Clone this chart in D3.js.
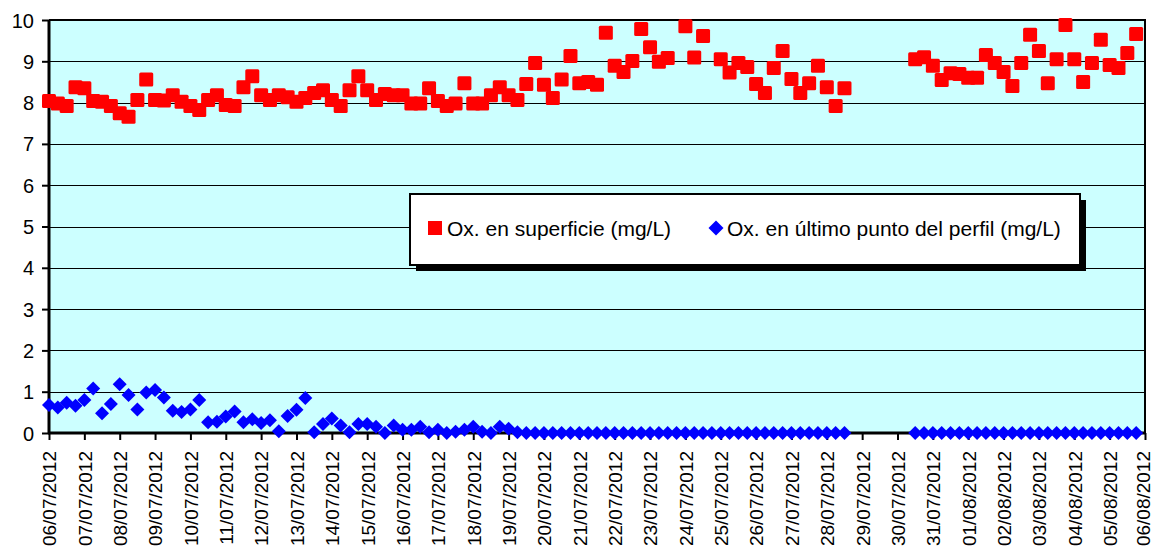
<!DOCTYPE html>
<html><head><meta charset="utf-8">
<script src="https://cdn.jsdelivr.net/npm/d3@7"></script>
<style>
body{margin:0;background:#fff}
text{font-family:Arial,"Liberation Sans",sans-serif;fill:#000}
</style>
</head><body>
<svg id="chart" width="1153" height="555"></svg>
<script>
const tickLabels = ["06/07/2012","07/07/2012","08/07/2012","09/07/2012","10/07/2012","11/07/2012","12/07/2012","13/07/2012","14/07/2012","15/07/2012","16/07/2012","17/07/2012","18/07/2012","19/07/2012","20/07/2012","21/07/2012","22/07/2012","23/07/2012","24/07/2012","25/07/2012","26/07/2012","27/07/2012","28/07/2012","29/07/2012","30/07/2012","31/07/2012","01/08/2012","02/08/2012","03/08/2012","04/08/2012","05/08/2012","06/08/2012"];
const yTicks = [0,1,2,3,4,5,6,7,8,9,10];
const firstSample = "06/07/2012 00:00";
const sampleStepHours = 6;
const seriesNames = ["Ox. en superficie (mg/L)", "Ox. en último punto del perfil (mg/L)"];
const surface = [
8.04,7.98,7.92,8.37,8.35,8.04,8.02,7.92,7.74,7.66,
8.06,8.56,8.06,8.05,8.18,8.02,7.92,7.82,8.06,8.18,
7.94,7.92,8.37,8.64,8.18,8.06,8.18,8.13,8.02,8.11,
8.23,8.30,8.06,7.92,8.30,8.64,8.30,8.06,8.21,8.18,
8.18,7.98,7.98,8.35,8.04,7.92,7.98,8.47,7.98,7.98,
8.18,8.37,8.18,8.06,8.45,8.96,8.43,8.11,8.56,9.13,
8.47,8.50,8.43,9.69,8.89,8.74,9.01,9.78,9.34,8.99,
9.08,null,9.85,9.09,9.61,null,9.05,8.73,8.96,8.86,
8.45,8.23,8.84,9.25,8.57,8.23,8.47,8.89,8.37,7.92,
8.35,null,null,null,null,null,null,null,9.05,9.10,
8.89,8.55,8.71,8.69,8.60,8.60,9.15,8.96,8.74,8.40,
8.96,9.64,9.25,8.47,9.05,9.88,9.05,8.50,8.96,9.52,
8.91,8.84,9.20,9.66];
const bottom = [
0.68,0.62,0.73,0.66,0.80,1.08,0.48,0.70,1.18,0.92,
0.57,0.98,1.04,0.86,0.54,0.51,0.57,0.80,0.26,0.27,
0.40,0.52,0.26,0.33,0.24,0.31,0.04,0.41,0.56,0.85,
0.02,0.22,0.35,0.18,0.02,0.22,0.22,0.15,0.00,0.18,
0.08,0.08,0.15,0.02,0.08,0.00,0.03,0.08,0.15,0.03,
0.00,0.15,0.10,0.02,0,0,0,0,0,0,
0,0,0,0,0,0,0,0,0,0,
0,0,0,0,0,0,0,0,0,0,
0,0,0,0,0,0,0,0,0,0,
0,null,null,null,null,null,null,null,0,0,
0,0,0,0,0,0,0,0,0,0,
0,0,0,0,0,0,0,0,0,0,
0,0,0,0];

const parseDay = d3.timeParse("%d/%m/%Y");
const parseStamp = d3.timeParse("%d/%m/%Y %H:%M");
const tickDates = tickLabels.map(parseDay);
const t0 = parseStamp(firstSample);
const timeOf = i => d3.timeHour.offset(t0, i * sampleStepHours);

const L = 49, R = 1145, T = 20, B = 433;
const svg = d3.select("#chart");
const x = d3.scaleTime().domain([tickDates[0], tickDates[tickDates.length-1]]).range([L, R]);
const y = d3.scaleLinear().domain([0, 10]).range([B, T]);

// plot background
svg.append("rect").attr("x", L).attr("y", T).attr("width", R-L).attr("height", B-T).attr("fill", "#CCFFFF");

// gridlines
svg.append("g").selectAll("line").data(yTicks.filter(v => v > 0)).join("line")
  .attr("x1", L).attr("x2", R).attr("y1", d => Math.round(y(d))+0.5).attr("y2", d => Math.round(y(d))+0.5)
  .attr("stroke", "#000").attr("stroke-width", 1);

// plot border top/right
svg.append("line").attr("x1", L).attr("x2", R+1).attr("y1", T).attr("y2", T).attr("stroke", "#000").attr("stroke-width", 2);
svg.append("line").attr("x1", R).attr("x2", R).attr("y1", T).attr("y2", B).attr("stroke", "#000").attr("stroke-width", 2);

// y axis
const yAxis = d3.axisLeft(y).tickValues(yTicks).tickSize(7).tickPadding(8).tickFormat(d3.format("d"));
const gy = svg.append("g").attr("transform", `translate(${L},0)`).call(yAxis);
gy.select(".domain").attr("stroke", "#000").attr("stroke-width", 3).attr("d", `M0,${T}V${B+1}`);
gy.selectAll(".tick line").attr("stroke", "#000").attr("stroke-width", 2);
gy.selectAll(".tick text").attr("font-size", 20).attr("font-family", "Arial, 'Liberation Sans', sans-serif").attr("fill", "#000").attr("dy", "0.35em");

// x axis
const xAxis = d3.axisBottom(x).tickValues(tickDates).tickSize(7).tickFormat((d, i) => tickLabels[i]);
const gx = svg.append("g").attr("transform", `translate(0,${B})`).call(xAxis);
gx.select(".domain").attr("stroke", "#000").attr("stroke-width", 3).attr("d", `M${L-1},0H${R+1}`);
gx.selectAll(".tick line").attr("stroke", "#000").attr("stroke-width", 2);
gx.selectAll(".tick text")
  .attr("font-size", 19).attr("font-family", "Arial, 'Liberation Sans', sans-serif").attr("fill", "#000")
  .attr("transform", "rotate(-90)")
  .attr("text-anchor", "end")
  .attr("x", -18).attr("y", (d, i) => i === tickLabels.length - 1 ? -2 : 0).attr("dy", "0.36em");

// markers
const ptsS = surface.map((v, i) => ({t: timeOf(i), v})).filter(d => d.v !== null);
const ptsB = bottom.map((v, i) => ({t: timeOf(i), v})).filter(d => d.v !== null);
const sq = 14, dh = 7;

svg.append("g").selectAll("path").data(ptsB).join("path")
  .attr("d", d => { const cx = x(d.t), cy = y(d.v); return `M${cx},${cy-dh}L${cx+dh},${cy}L${cx},${cy+dh}L${cx-dh},${cy}Z`; })
  .attr("fill", "#0000FF");

svg.append("g").selectAll("rect").data(ptsS).join("rect")
  .attr("x", d => x(d.t) - sq/2).attr("y", d => y(d.v) - sq/2)
  .attr("width", sq).attr("height", sq).attr("rx", 1.5)
  .attr("fill", "#FF0000");

// legend
const lg = svg.append("g");
lg.append("rect").attr("x", 416).attr("y", 200).attr("width", 670).attr("height", 71).attr("fill", "#000");
lg.append("rect").attr("x", 410).attr("y", 194).attr("width", 670).attr("height", 71).attr("fill", "#fff").attr("stroke", "#000").attr("stroke-width", 2);
lg.append("rect").attr("x", 428).attr("y", 221).attr("width", 14).attr("height", 14).attr("fill", "#FF0000");
lg.append("text").attr("x", 447).attr("y", 235.5).attr("font-size", 21).text(seriesNames[0]);
lg.append("path").attr("d", "M716,220.5L723.5,228L716,235.5L708.5,228Z").attr("fill", "#0000FF");
lg.append("text").attr("x", 727).attr("y", 235.5).attr("font-size", 21).text(seriesNames[1]);
</script>
</body></html>
